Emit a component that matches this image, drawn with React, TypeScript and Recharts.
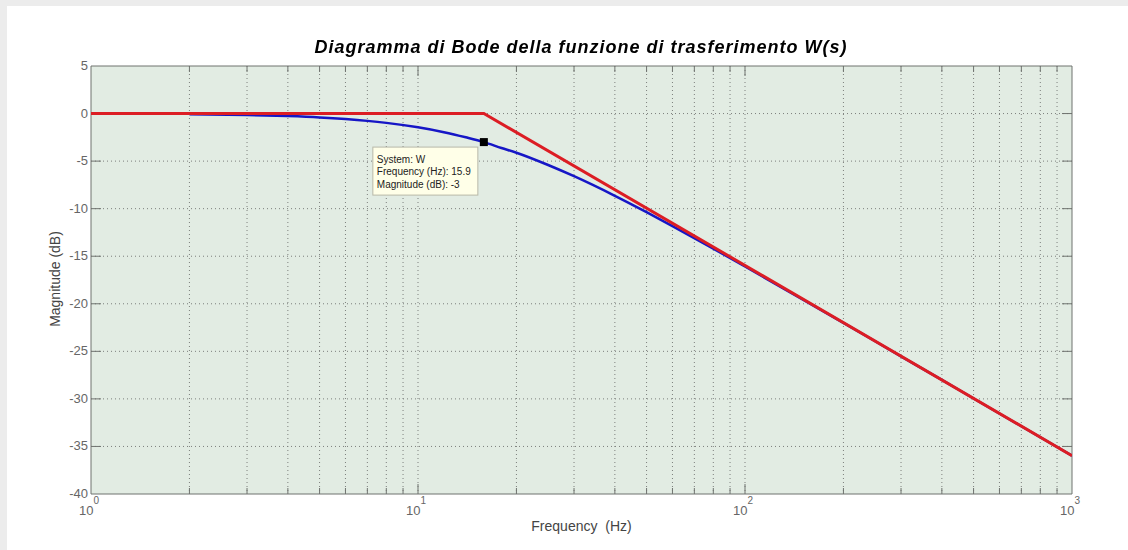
import React from 'react';
import { LineChart, Line, XAxis, YAxis, CartesianGrid, ReferenceLine, ReferenceDot, ReferenceArea } from 'recharts';

// Frequencies (Hz) and magnitudes (dB)
const blueFreq = [2, 3, 4, 5, 6, 7, 8, 10, 12, 14, 15.9, 18, 20, 25, 30, 40, 50, 60, 80, 100, 150, 200, 300, 400, 500, 700, 1000];
const blueDb = [-0.07, -0.15, -0.27, -0.41, -0.58, -0.77, -0.98, -1.45, -1.96, -2.5, -3, -3.62, -4.12, -5.41, -6.59, -8.65, -10.37, -11.83, -14.2, -16.08, -19.54, -22.0, -25.53, -28.0, -29.96, -32.88, -35.97];

const redFreq = [1, 15.9, 1000];
const redDb = [0, 0, -35.97];

const xMajorTicks = [1, 10, 100, 1000];
const xGridLines = [2, 3, 4, 5, 6, 7, 8, 9, 10, 20, 30, 40, 50, 60, 70, 80, 90, 100, 200, 300, 400, 500, 600, 700, 800, 900];
const yTicks = [-40, -35, -30, -25, -20, -15, -10, -5, 0, 5];
const yGridLines = [-35, -30, -25, -20, -15, -10, -5, 0];

const tipFreq = 15.9;
const tipDb = -3;
const tipLines = ['System: W', 'Frequency (Hz): 15.9', 'Magnitude (dB): -3'];

const blueData = blueFreq.map((f, i) => ({ f, db: blueDb[i] }));
const redData = redFreq.map((f, i) => ({ f, db: redDb[i] }));

const FONT = '"Liberation Sans", Arial, sans-serif';
const GRID = '#7c7f7c';
const AXIS = '#6f736f';
const TICKTEXT = '#666';

const makeVLine = (major: boolean) => (p: any) => {
  const top = Math.min(p.y1, p.y2);
  const bot = Math.max(p.y1, p.y2);
  const t = major ? 10 : 6;
  return (
    <g>
      <line x1={p.x1} x2={p.x1} y1={top} y2={bot} stroke={GRID} strokeWidth={1} strokeDasharray="1 3" />
      <line x1={p.x1} x2={p.x1} y1={bot} y2={bot - t} stroke={AXIS} strokeWidth={1} />
      <line x1={p.x1} x2={p.x1} y1={top} y2={top + t} stroke={AXIS} strokeWidth={1} />
    </g>
  );
};

const HLine = (p: any) => {
  const l = Math.min(p.x1, p.x2);
  const r = Math.max(p.x1, p.x2);
  return (
    <g>
      <line x1={l} x2={r} y1={p.y1} y2={p.y1} stroke={GRID} strokeWidth={1} strokeDasharray="1 3" />
      <line x1={l} x2={l + 10} y1={p.y1} y2={p.y1} stroke={AXIS} strokeWidth={1} />
      <line x1={r} x2={r - 10} y1={p.y1} y2={p.y1} stroke={AXIS} strokeWidth={1} />
    </g>
  );
};

const XTick = (p: any) => {
  const v = p.payload.value;
  const exp = Math.round(Math.log10(v));
  return (
    <text x={p.x} y={p.y} fill={TICKTEXT} fontSize={13} fontFamily={FONT} textAnchor="middle">
      <tspan x={p.x - 2} dy={19}>10</tspan>
      <tspan dy={-11} fontSize={10}>{exp}</tspan>
    </text>
  );
};

const YTick = (p: any) => (
  <text x={p.x} y={p.y} dy={4} fill={TICKTEXT} fontSize={13} fontFamily={FONT} textAnchor="end">
    {p.payload.value}
  </text>
);

const DataTip = (p: any) => {
  const cx = p.cx;
  const cy = p.cy;
  return (
    <g>
      <rect x={cx - 111} y={cy + 5} width={105} height={48} fill="#ffffe8" stroke="#b8b8a8" strokeWidth={1} />
      {tipLines.map((s, i) => (
        <text key={i} x={cx - 107} y={cy + 21 + i * 12.3} fontSize={10} fill="#222" fontFamily={FONT}>
          {s}
        </text>
      ))}
      <rect x={cx - 4} y={cy - 4} width={8} height={8} fill="#000" />
    </g>
  );
};

export default function App() {
  return (
    <div style={{ position: 'fixed', left: 0, top: 0, width: 1128, height: 550, background: '#ececec' }}>
      <div style={{ position: 'absolute', left: 7, top: 6, right: 0, bottom: 0, background: '#ffffff' }} />
      <div style={{ position: 'absolute', left: 0, top: 0 }}>
        <LineChart width={1128} height={550} margin={{ top: 66, left: 51, right: 56, bottom: 26 }}>
          <CartesianGrid fill="#e2ece3" horizontal={false} vertical={false} stroke="none" />
          <XAxis
            dataKey="f"
            type="number"
            scale="log"
            domain={[1, 1000]}
            ticks={xMajorTicks}
            allowDataOverflow
            height={30}
            tickSize={0}
            tickMargin={2}
            tickLine={false}
            axisLine={false}
            tick={<XTick />}
          />
          <YAxis
            type="number"
            domain={[-40, 5]}
            ticks={yTicks}
            allowDataOverflow
            width={40}
            tickSize={0}
            tickMargin={3}
            tickLine={false}
            axisLine={false}
            tick={<YTick />}
          />
          {xGridLines.map((f) => (
            <ReferenceLine key={'v' + f} x={f} shape={makeVLine(xMajorTicks.includes(f))} />
          ))}
          {yGridLines.map((v) => (
            <ReferenceLine key={'h' + v} y={v} shape={HLine} />
          ))}
          <ReferenceArea x1={1} x2={1000} y1={-40} y2={5} fill="none" fillOpacity={0} stroke={AXIS} strokeWidth={1} />
          <Line data={blueData} dataKey="db" type="monotone" stroke="#1616c6" strokeWidth={2.5} dot={false} isAnimationActive={false} />
          <Line data={redData} dataKey="db" type="linear" stroke="#dc1d24" strokeWidth={3} dot={false} isAnimationActive={false} />
          <ReferenceDot x={tipFreq} y={tipDb} shape={<DataTip />} />
        </LineChart>
      </div>
      <div style={{ position: 'absolute', left: 0, width: 1162, top: 37, textAlign: 'center', fontFamily: FONT, fontSize: 18, letterSpacing: 1, fontWeight: 'bold', fontStyle: 'italic', color: '#000', whiteSpace: 'nowrap' }}>
        Diagramma di Bode della funzione di trasferimento W(s)
      </div>
      <div style={{ position: 'absolute', left: 91, width: 981, top: 518, textAlign: 'center', fontFamily: FONT, fontSize: 14, color: '#444' }}>
        Frequency&nbsp;&nbsp;(Hz)
      </div>
      <div style={{ position: 'absolute', left: 55, top: 280, width: 0, height: 0 }}>
        <div style={{ position: 'absolute', left: -100, top: -9, width: 200, textAlign: 'center', transform: 'rotate(-90deg)', fontFamily: FONT, fontSize: 14, color: '#444', whiteSpace: 'nowrap' }}>
          Magnitude (dB)
        </div>
      </div>
    </div>
  );
}
